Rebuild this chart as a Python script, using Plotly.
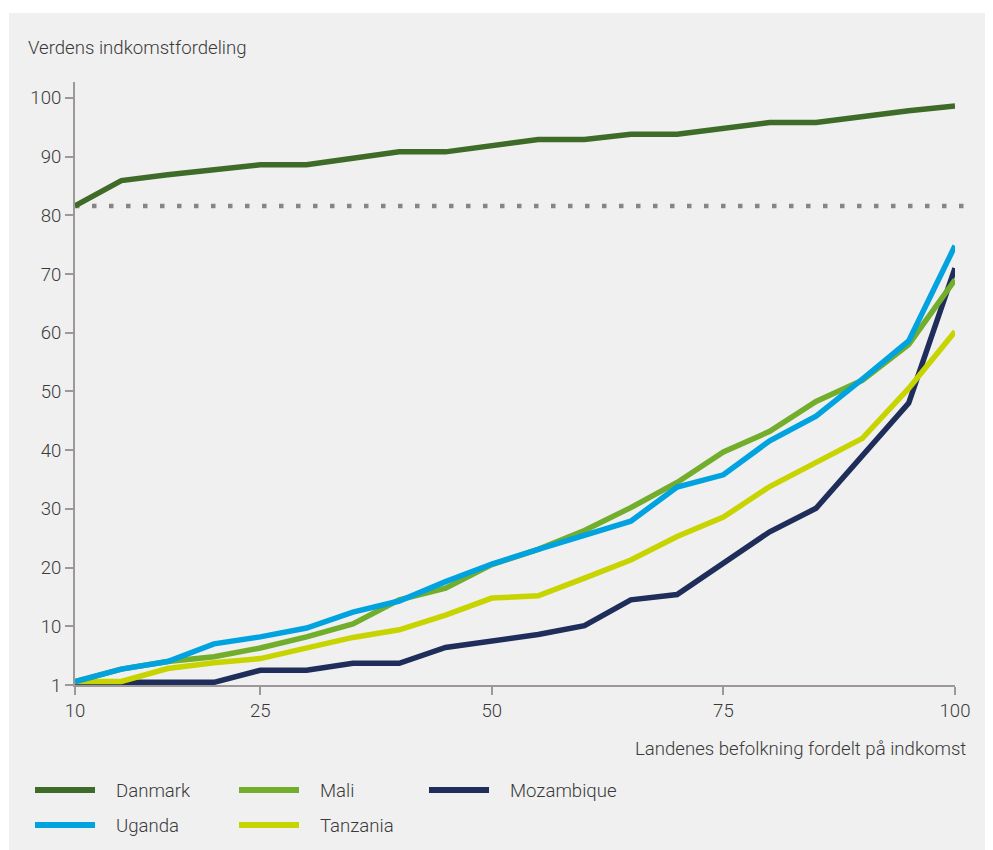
import plotly.graph_objects as go

# ---------------- data ----------------
population = [5, 10, 15, 20, 25, 30, 35, 40, 45, 50, 55, 60, 65, 70, 75, 80, 85, 90, 95, 100]
x_tick_vals = [5, 25, 50, 75, 100]
x_tick_text = ["10", "25", "50", "75", "100"]
y_tick_vals = [0, 10, 20, 30, 40, 50, 60, 70, 80, 90, 100]
y_tick_text = ["1", "10", "20", "30", "40", "50", "60", "70", "80", "90", "100"]

danmark = [81.6, 85.9, 86.9, 87.8, 88.6, 88.6, 89.7, 90.8, 90.8, 91.9,
           92.9, 92.9, 93.8, 93.8, 94.8, 95.8, 95.8, 96.9, 97.8, 98.6]
mali = [0.6, 2.7, 4.0, 4.8, 6.3, 8.2, 10.4, 14.5, 16.5, 20.5,
        23.1, 26.3, 30.2, 34.5, 39.7, 43.2, 48.3, 51.9, 58.0, 69.0]
mozambique = [0.45, 0.45, 0.45, 0.45, 2.5, 2.5, 3.7, 3.7, 6.4, 7.6,
              8.6, 10.1, 14.5, 15.4, 20.7, 26.1, 30.1, 38.9, 48.0, 71.0]
uganda = [0.6, 2.7, 4.0, 7.0, 8.2, 9.7, 12.4, 14.3, 17.6, 20.6,
          23.1, 25.5, 27.9, 33.7, 35.8, 41.6, 45.8, 52.1, 58.6, 74.8]
tanzania = [0.6, 0.6, 2.8, 3.8, 4.5, 6.25, 8.1, 9.4, 11.9, 14.8,
            15.2, 18.2, 21.3, 25.3, 28.6, 33.8, 38.0, 42.0, 50.5, 60.2]
world_reference = 81.6

series_names = ["Danmark", "Mali", "Mozambique", "Uganda", "Tanzania"]
series_values = [danmark, mali, mozambique, uganda, tanzania]
series_colors = ["#3e6b27", "#72ad2b", "#1f2d5a", "#00a3e0", "#c8d400"]
draw_order = ["Mozambique", "Tanzania", "Mali", "Uganda", "Danmark"]

y_title = "Verdens indkomstfordeling"
x_title = "Landenes befolkning fordelt på indkomst"

# ---------------- layout geometry ----------------
# pixel positions below are page positions; the page body adds an 8px offset
OFF = 8
W, H = 993, 850
PLOT_X0, PLOT_X1 = 75, 955
PLOT_Y0, PLOT_Y1 = 82, 685
L = PLOT_X0 - OFF
R = W - (PLOT_X1 - OFF)
T = PLOT_Y0 - OFF
B = H - (PLOT_Y1 - OFF)
PW = PLOT_X1 - PLOT_X0
PH = PLOT_Y1 - PLOT_Y0
FONT = "Roboto"
FS = 18.6
TXT = "#3a3a3a"
AXIS = "#9e9898"
PANEL = "#f0f0f0"


def px2x(px):
    return (px - PLOT_X0) / PW


def py2y(py):
    return (PLOT_Y1 - py) / PH


def tfont():
    return dict(family=FONT, size=FS, color=TXT, weight=300)


fig = go.Figure()
lookup = dict(zip(series_names, zip(series_values, series_colors)))
for name in draw_order:
    vals, col = lookup[name]
    fig.add_trace(go.Scatter(
        x=population, y=vals, mode="lines", name=name,
        line=dict(color=col, width=5.5), showlegend=False,
        hoverinfo="x+y+name",
    ))

shapes = [
    # white strips at the top and left of the grey panel
    dict(type="rect", xref="paper", yref="paper",
         x0=px2x(OFF - 5), x1=px2x(9), y0=py2y(H + 20), y1=py2y(OFF - 5),
         fillcolor="white", line=dict(width=0), layer="below"),
    dict(type="rect", xref="paper", yref="paper",
         x0=px2x(OFF - 5), x1=px2x(W + 20), y0=py2y(13), y1=py2y(OFF - 5),
         fillcolor="white", line=dict(width=0), layer="below"),
    # world reference dotted line
    dict(type="line", xref="paper", yref="y",
         x0=0, x1=px2x(973), y0=world_reference, y1=world_reference,
         line=dict(color="#8a8383", width=4.5, dash="4.5px,12.5px"), layer="below"),
]

annotations = [
    dict(text=y_title, xref="paper", yref="paper", x=px2x(26), y=py2y(48),
         xanchor="left", yanchor="middle", showarrow=False, font=tfont()),
    dict(text=x_title, xref="paper", yref="paper", x=px2x(968), y=py2y(749),
         xanchor="right", yanchor="middle", showarrow=False, font=tfont()),
]

# custom legend (line sample + label), laid out in two rows
legend_cols_px = [35, 239, 429]
legend_rows_px = [790, 825]
for i, name in enumerate(series_names):
    col_px = legend_cols_px[i % 3]
    row_px = legend_rows_px[i // 3]
    shapes.append(dict(type="line", xref="paper", yref="paper",
                       x0=px2x(col_px), x1=px2x(col_px + 60),
                       y0=py2y(row_px), y1=py2y(row_px),
                       line=dict(color=lookup[name][1], width=6)))
    annotations.append(dict(text=name, xref="paper", yref="paper",
                            x=px2x(col_px + 79), y=py2y(row_px + 1),
                            xanchor="left", yanchor="middle", showarrow=False,
                            font=tfont()))

axis_common = dict(showgrid=False, zeroline=False, showline=True, linecolor=AXIS,
                   linewidth=2, ticks="outside", ticklen=8, tickwidth=1.5,
                   tickcolor=AXIS, tickfont=tfont(), fixedrange=True)

fig.update_layout(
    width=W, height=H,
    margin=dict(l=L, r=R, t=T, b=B, autoexpand=False),
    paper_bgcolor=PANEL, plot_bgcolor=PANEL,
    font=tfont(),
    shapes=shapes, annotations=annotations,
    showlegend=False,
    xaxis=dict(range=[5, 100], tickvals=x_tick_vals, ticktext=x_tick_text, **axis_common),
    yaxis=dict(range=[0, 102.7], tickvals=y_tick_vals, ticktext=y_tick_text, **axis_common),
)

fig.write_html("out.html")
